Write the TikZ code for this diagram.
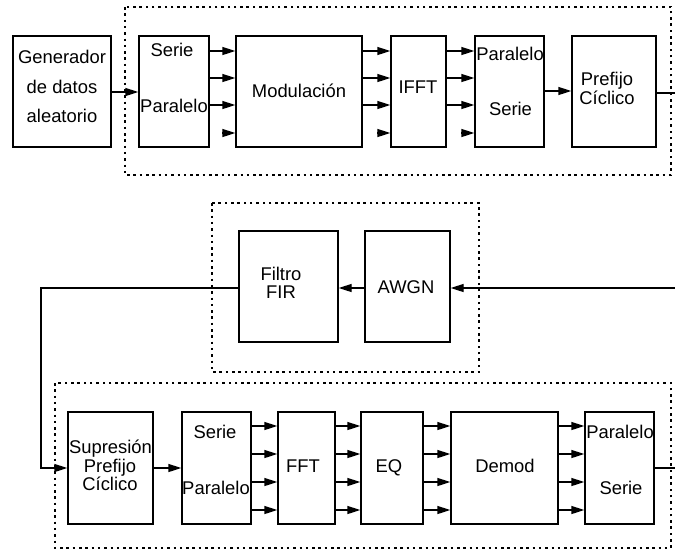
\documentclass[tikz,border=0pt]{standalone}
\usepackage{fontspec}
\setmainfont{Liberation Sans}
\usetikzlibrary{arrows.meta,calc}
\begin{document}
\begin{tikzpicture}[x=1pt,y=-1pt,
  blk/.style={draw,line width=1.4pt,inner sep=0pt},
  txt/.style={anchor=base,inner sep=0pt,font=\fontsize{18.4}{20}\selectfont},
  conn/.style={line width=1.4pt,-{Triangle[length=13pt,width=8pt]}},
  wire/.style={line width=1.4pt},
  frame/.style={line width=1.7pt,dash pattern=on 2.5pt off 3.8pt}]
\useasboundingbox (0,0) rectangle (675,550);
% frames
\draw[frame] (125,7) rectangle (671,175);
\draw[frame] (212,203) rectangle (479,372);
\draw[frame] (55,383) rectangle (671,548);
% top row boxes
\node[blk,minimum width=98pt,minimum height=111pt] (gen) at (62,91.5) {};
\node[blk,minimum width=70pt,minimum height=111pt] (sp1) at (174,91.5) {};
\node[blk,minimum width=126pt,minimum height=111pt] (mod) at (299,91.5) {};
\node[blk,minimum width=55pt,minimum height=111pt] (ifft) at (418.5,91.5) {};
\node[blk,minimum width=69pt,minimum height=111pt] (ps1) at (509.5,91.5) {};
\node[blk,minimum width=84pt,minimum height=111pt] (pre) at (614,91.5) {};
% middle boxes
\node[blk,minimum width=99pt,minimum height=111pt] (fir) at (288.5,286.5) {};
\node[blk,minimum width=85pt,minimum height=111pt] (awgn) at (407.5,286.5) {};
% bottom boxes
\node[blk,minimum width=85pt,minimum height=112pt] (sup) at (110.5,468) {};
\node[blk,minimum width=69pt,minimum height=112pt] (sp2) at (216.5,468) {};
\node[blk,minimum width=57pt,minimum height=112pt] (fft) at (306.5,468) {};
\node[blk,minimum width=62pt,minimum height=112pt] (eq) at (392,468) {};
\node[blk,minimum width=107pt,minimum height=112pt] (dem) at (504.5,468) {};
\node[blk,minimum width=69pt,minimum height=112pt] (ps2) at (619.5,468) {};
% texts top
\node[txt] (t1) at (62,63) {Generador};
\node[txt] (t2) at (62,93) {de datos};
\node[txt] (t3) at (62,122) {aleatorio};
\node[txt] (t4) at (172,56) {Serie};
\node[txt] (t5) at (174,112) {Paralelo};
\node[txt] (t6) at (299,97) {Modulación};
\node[txt] (t7) at (418,93) {IFFT};
\node[txt] (t8) at (510,60) {Paralelo};
\node[txt] (t9) at (510.5,115) {Serie};
\node[txt] (t10) at (607,85) {Prefijo};
\node[txt] (t11) at (607,104) {Cíclico};
% texts middle
\node[txt] (t12) at (281,280) {Filtro};
\node[txt] (t13) at (281,298) {FIR};
\node[txt] (t14) at (406,293) {AWGN};
% texts bottom
\node[txt] (t15) at (110.5,453) {Supresión};
\node[txt] (t16) at (110,472) {Prefijo};
\node[txt] (t17) at (110,490) {Cíclico};
\node[txt] (t18) at (215,438) {Serie};
\node[txt] (t19) at (216,494) {Paralelo};
\node[txt] (t20) at (303,472) {FFT};
\node[txt] (t21) at (389,472) {EQ};
\node[txt] (t22) at (505,472) {Demod};
\node[txt] (t23) at (620,438) {Paralelo};
\node[txt] (t24) at (621,494) {Serie};
% coordinates
\coordinate (outT) at (675,93);
\coordinate (inR) at (675,288);
\coordinate (bend) at (41,288);
\coordinate (outB) at (675,468);
% top connectors
\draw[conn] (gen.east |- 0,92) -- (sp1.west |- 0,92);
\foreach \yy in {51,78,105} {
  \draw[conn] (sp1.east |- 0,\yy) -- (mod.west |- 0,\yy);
  \draw[conn] (mod.east |- 0,\yy) -- (ifft.west |- 0,\yy);
  \draw[conn] (ifft.east |- 0,\yy) -- (ps1.west |- 0,\yy);
}
\draw[conn] ($(mod.west |- 0,133)+(-13,0)$) -- (mod.west |- 0,133);
\draw[conn] ($(ifft.west |- 0,133)+(-13,0)$) -- (ifft.west |- 0,133);
\draw[conn] ($(ps1.west |- 0,133)+(-13,0)$) -- (ps1.west |- 0,133);
\draw[conn] (ps1.east |- 0,91) -- (pre.west |- 0,91);
\draw[wire] (pre.east |- 0,93) -- (outT);
% middle connectors
\draw[conn] (inR) -- (awgn.east |- inR);
\draw[conn] (awgn.west |- inR) -- (fir.east |- inR);
\draw[conn] (fir.west |- bend) -- (bend) |- (sup.west);
% bottom connectors
\draw[conn] (sup.east) -- (sp2.west);
\foreach \yy in {426,454,482,510} {
  \draw[conn] (sp2.east |- 0,\yy) -- (fft.west |- 0,\yy);
  \draw[conn] (fft.east |- 0,\yy) -- (eq.west |- 0,\yy);
  \draw[conn] (eq.east |- 0,\yy) -- (dem.west |- 0,\yy);
  \draw[conn] (dem.east |- 0,\yy) -- (ps2.west |- 0,\yy);
}
\draw[wire] (ps2.east) -- (outB);
\end{tikzpicture}
\end{document}
